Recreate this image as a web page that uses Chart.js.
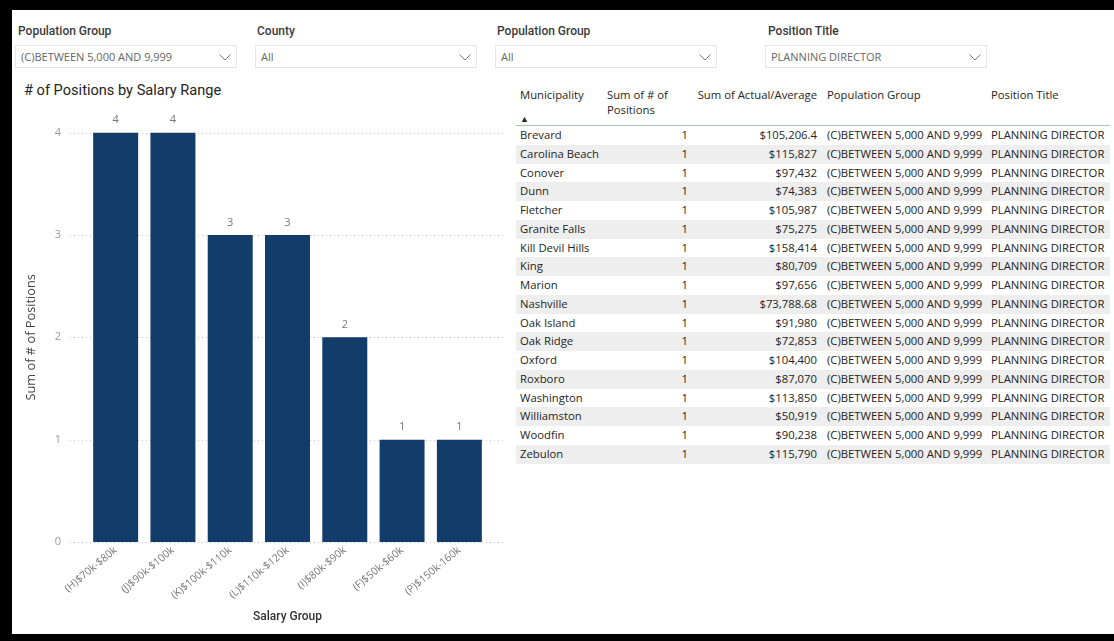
<!DOCTYPE html>
<html>
<head>
<meta charset="utf-8">
<script src="https://cdn.jsdelivr.net/npm/chart.js@4"></script>
<style>
  html, body { margin: 0; padding: 0; background: #000; }
  body { width: 1114px; height: 641px; position: relative; overflow: hidden; }
  .page { position: absolute; left: 12px; top: 10px; width: 1102px; height: 624px; background: #fff; }
  .flabel { position: absolute; top: 14px; font: 500 12px Roboto, sans-serif; color: #3a3a3a; }
  .fbox { position: absolute; top: 35px; height: 23px; width: 222px; border: 1px solid #e6e6e6; box-sizing: border-box;
          font: 11px "Open Sans", sans-serif; color: #666; line-height: 22px; padding-left: 5px; }
  .fbox svg { position: absolute; right: 5px; top: 8px; }
  .ctitle { position: absolute; left: 12px; top: 71px; font: 14.6px Roboto, sans-serif; color: #252423; }
  #chartWrap { position: absolute; left: 0; top: 90px; width: 498px; height: 534px; }
  .tbl { position: absolute; left: 504px; top: 76px; width: 594px; font: 11.3px "Open Sans", sans-serif; color: #252423; }
  .thead { position: relative; height: 40px; border-bottom: 1px solid #a9c2b6; box-sizing: border-box; }
  .thead div { position: absolute; top: 1px; line-height: 15px; }
  .row { position: relative; height: 18.75px; line-height: 18.75px; white-space: nowrap; }
  .row.alt { background: #eeeeee; }
  .row span { position: absolute; top: 0; }
</style>
</head>
<body>
<div class="page">
  <div class="flabel" style="left:6px">Population Group</div>
  <div class="fbox" style="left:3px">(C)BETWEEN 5,000 AND 9,999</div>
  <div class="flabel" style="left:245px">County</div>
  <div class="fbox" style="left:243px">All</div>
  <div class="flabel" style="left:485px">Population Group</div>
  <div class="fbox" style="left:483px">All</div>
  <div class="flabel" style="left:756px">Position Title</div>
  <div class="fbox" style="left:753px">PLANNING DIRECTOR</div>

  <div class="ctitle"># of Positions by Salary Range</div>
  <div id="chartWrap"><canvas id="salaryChart"></canvas></div>

  <div class="tbl" id="tbl"></div>
</div>

<script>
// 图表数据
const categories = ['(H)$70k-$80k', '(J)$90k-$100k', '(K)$100k-$110k', '(L)$110k-$120k', '(I)$80k-$90k', '(F)$50k-$60k', '(P)$150k-160k'];
const positions = [4, 4, 3, 3, 2, 1, 1];
const yTicks = [0, 1, 2, 3, 4];

// 表格数据
const municipalities = ['Brevard', 'Carolina Beach', 'Conover', 'Dunn', 'Fletcher', 'Granite Falls', 'Kill Devil Hills', 'King', 'Marion',
    'Nashville', 'Oak Island', 'Oak Ridge', 'Oxford', 'Roxboro', 'Washington', 'Williamston', 'Woodfin', 'Zebulon'];
const positionCounts = [1, 1, 1, 1, 1, 1, 1, 1, 1, 1, 1, 1, 1, 1, 1, 1, 1, 1];
const salaries = ['$105,206.4', '$115,827', '$97,432', '$74,383', '$105,987', '$75,275', '$158,414', '$80,709', '$97,656',
    '$73,788.68', '$91,980', '$72,853', '$104,400', '$87,070', '$113,850', '$50,919', '$90,238', '$115,790'];
const popGroup = '(C)BETWEEN 5,000 AND 9,999';
const posTitle = 'PLANNING DIRECTOR';

// 下拉箭头
document.querySelectorAll('.fbox').forEach(box => {
    box.insertAdjacentHTML('beforeend',
        '<svg width="12" height="7"><polyline points="0.5,0.5 6,6 11.5,0.5" fill="none" stroke="#777" stroke-width="1"/></svg>');
});

// 构建表格
function buildTable() {
    const tbl = document.getElementById('tbl');
    let html = '<div class="thead">' +
        '<div style="left:4px">Municipality</div>' +
        '<div style="left:4px;top:28px;font-size:9px;line-height:10px">&#9650;</div>' +
        '<div style="left:91px">Sum of # of<br>Positions</div>' +
        '<div style="right:293px">Sum of Actual/Average</div>' +
        '<div style="left:311px">Population Group</div>' +
        '<div style="left:475px">Position Title</div>' +
        '</div>';
    municipalities.forEach((m, i) => {
        html += `<div class="row${i % 2 ? ' alt' : ''}">` +
            `<span style="left:4px">${m}</span>` +
            `<span style="right:422px">${positionCounts[i]}</span>` +
            `<span style="right:293px">${salaries[i]}</span>` +
            `<span style="left:311px">${popGroup}</span>` +
            `<span style="left:475px">${posTitle}</span>` +
            '</div>';
    });
    tbl.innerHTML = html;
}

// 虚线网格
const dottedGrid = {
    id: 'dottedGrid',
    beforeDatasetsDraw(chart) {
        const { ctx, chartArea, scales } = chart;
        ctx.save();
        ctx.strokeStyle = '#c8c8c8';
        ctx.lineWidth = 1;
        ctx.setLineDash([1, 3]);
        yTicks.forEach(v => {
            const y = Math.round(scales.y.getPixelForValue(v)) + 0.5;
            ctx.beginPath();
            ctx.moveTo(chartArea.left - 17, y);
            ctx.lineTo(chartArea.right + 15, y);
            ctx.stroke();
        });
        ctx.restore();
    }
};

// 柱顶数值
const valueLabels = {
    id: 'valueLabels',
    afterDatasetsDraw(chart) {
        const { ctx } = chart;
        const meta = chart.getDatasetMeta(0);
        ctx.save();
        ctx.fillStyle = '#777';
        ctx.font = '11px "Open Sans", sans-serif';
        ctx.textAlign = 'center';
        ctx.textBaseline = 'bottom';
        meta.data.forEach((bar, i) => {
            ctx.fillText(positions[i], bar.x, bar.y - 7);
        });
        ctx.restore();
    }
};

function initChart() {
    new Chart(document.getElementById('salaryChart').getContext('2d'), {
        type: 'bar',
        data: {
            labels: categories,
            datasets: [{
                data: positions,
                backgroundColor: '#123c69',
                categoryPercentage: 1,
                barPercentage: 0.785
            }]
        },
        options: {
            responsive: true,
            maintainAspectRatio: false,
            animation: false,
            layout: { padding: { top: 31, right: 22, left: 0, bottom: 0 } },
            plugins: { legend: { display: false }, tooltip: { enabled: false } },
            scales: {
                y: {
                    min: 0,
                    max: 4,
                    afterFit: s => { s.width = 75; },
                    grid: { display: false, drawTicks: false },
                    border: { display: false },
                    ticks: { stepSize: 1, padding: 26, color: '#999', font: { family: 'Open Sans', size: 11 } },
                    title: {
                        display: true,
                        text: 'Sum of # of Positions',
                        color: '#444',
                        padding: { top: 12, bottom: 0 },
                        font: { family: 'Open Sans', size: 12.8 }
                    }
                },
                x: {
                    afterFit: s => { s.height = 92; },
                    grid: { display: false, drawTicks: false },
                    border: { display: false },
                    ticks: {
                        autoSkip: false, minRotation: 40, maxRotation: 40, padding: 2,
                        color: '#777', font: { family: 'Open Sans', size: 10.5 }
                    },
                    title: {
                        display: true,
                        text: 'Salary Group',
                        color: '#333',
                        padding: { top: 0, bottom: 10 },
                        font: { family: 'Roboto', size: 12, weight: '500' }
                    }
                }
            }
        },
        plugins: [dottedGrid, valueLabels]
    });
}

document.addEventListener('DOMContentLoaded', () => {
    buildTable();
    initChart();
});
</script>
</body>
</html>
